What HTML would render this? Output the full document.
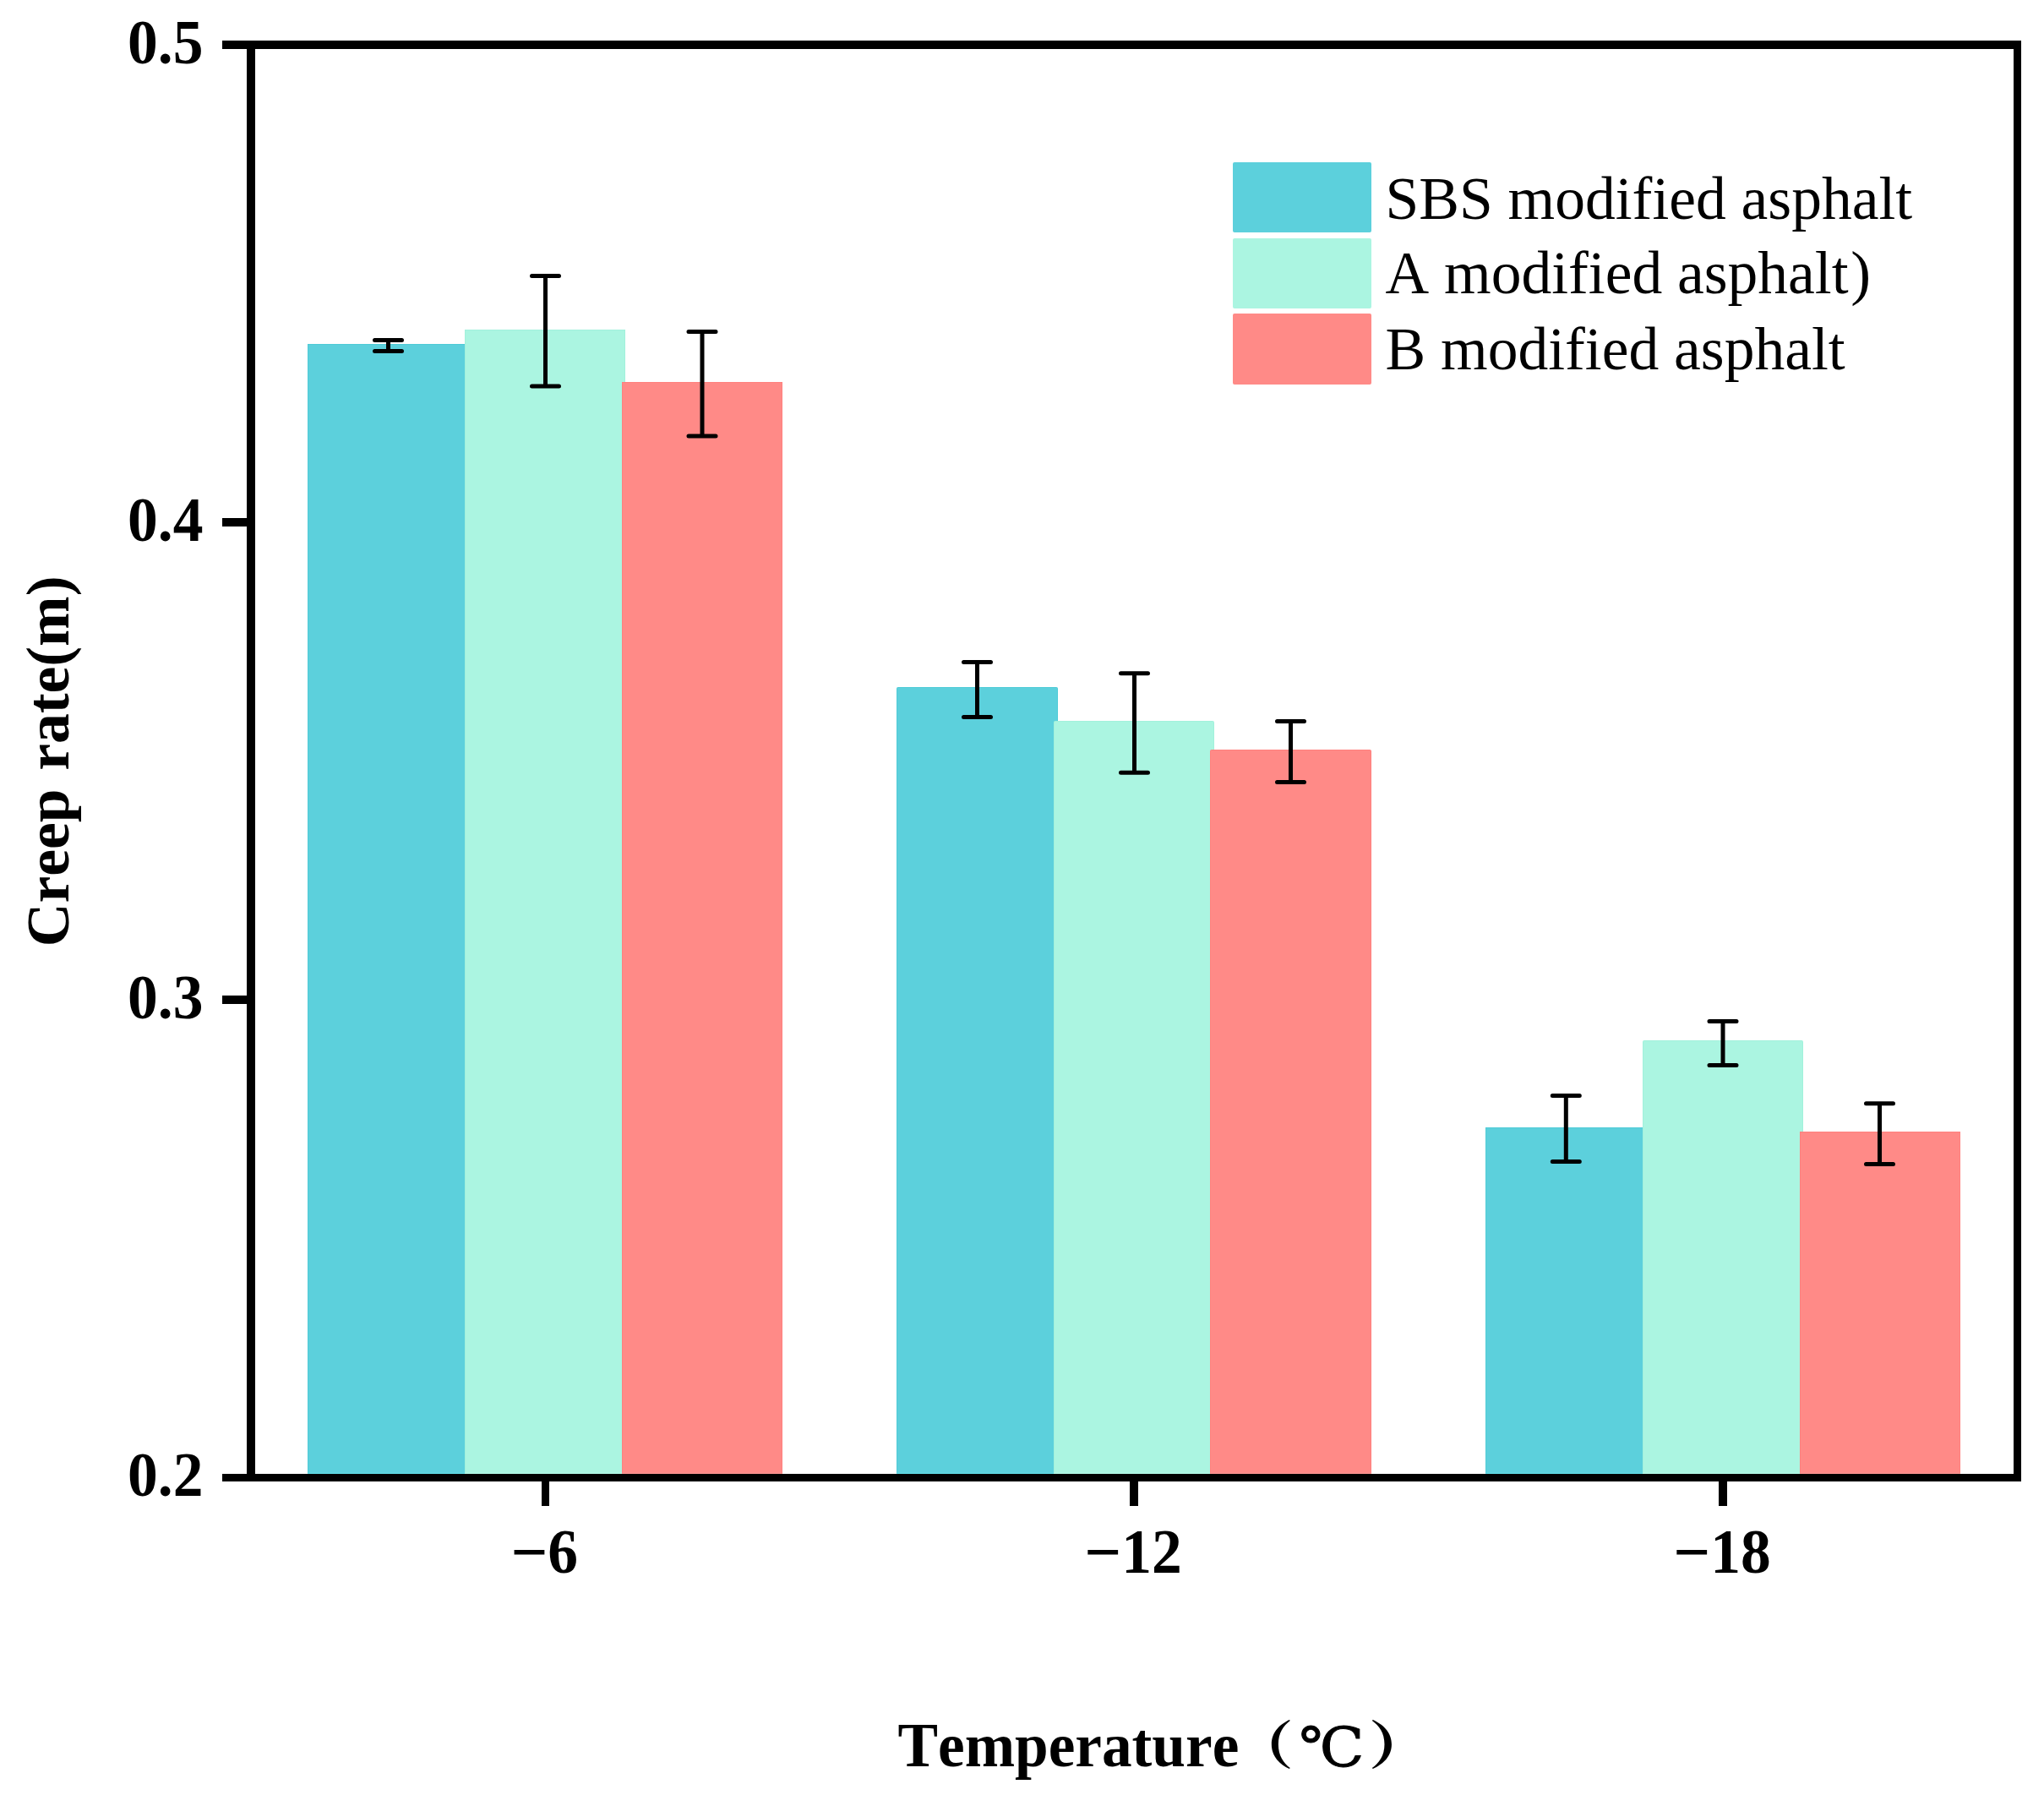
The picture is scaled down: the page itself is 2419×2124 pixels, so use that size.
<!DOCTYPE html>
<html>
<head>
<meta charset="utf-8">
<title>Creep rate vs Temperature</title>
<style>
html,body{margin:0;padding:0;background:#fff;}
body{width:2419px;height:2124px;overflow:hidden;}
svg{display:block;}
text{font-family:"Liberation Serif","Noto Serif CJK SC",serif;fill:#000;font-kerning:none;}
.b{font-weight:bold;}
.tick{font-size:71.5px;font-weight:bold;}
.leg{font-size:71.5px;}
.mn{font-size:77px;}
.ax{font-size:71.5px;font-weight:bold;}
.cjk{font-family:"Liberation Serif","Noto Serif CJK SC",serif;font-weight:900;font-size:72px;}
.deg{font-family:"DejaVu Serif","Noto Serif CJK SC",serif;font-weight:normal;font-size:66px;stroke:#000;stroke-width:1px;}
</style>
</head>
<body>
<svg width="2419" height="2124" viewBox="0 0 2419 2124">
<rect x="0" y="0" width="2419" height="2124" fill="#fff"/>

<!-- bars group 1 -->
<g id="bars">
<rect x="364.5" y="407.5" width="189" height="1339" fill="#5cd0dc" stroke="#4fcbd7" stroke-width="1"/>
<rect x="364" y="1743" width="190" height="1" fill="#62dfea"/>
<rect x="550.5" y="390.5" width="189" height="1356" fill="#abf5e1" stroke="#a2f1dc" stroke-width="1"/>
<rect x="550" y="1743" width="190" height="1" fill="#b6fce9"/>
<rect x="736.5" y="452.5" width="189" height="1294" fill="#ff8a87" stroke="#ff817e" stroke-width="1"/>
<rect x="736" y="1743" width="190" height="1" fill="#ff9895"/>
<rect x="1061.5" y="813.5" width="190" height="933" rx="1" fill="#5cd0dc" stroke="#4fcbd7" stroke-width="1"/>
<rect x="1061" y="1743" width="191" height="1" fill="#62dfea"/>
<rect x="1247.5" y="853.5" width="189" height="893" rx="1" fill="#abf5e1" stroke="#a2f1dc" stroke-width="1"/>
<rect x="1247" y="1743" width="190" height="1" fill="#b6fce9"/>
<rect x="1432.5" y="887.5" width="190" height="859" rx="1" fill="#ff8a87" stroke="#ff817e" stroke-width="1"/>
<rect x="1432" y="1743" width="191" height="1" fill="#ff9895"/>
<rect x="1758.5" y="1334.5" width="189" height="412" fill="#5cd0dc" stroke="#4fcbd7" stroke-width="1"/>
<rect x="1758" y="1743" width="190" height="1" fill="#62dfea"/>
<rect x="1944.5" y="1231.5" width="189" height="515" rx="1" fill="#abf5e1" stroke="#a2f1dc" stroke-width="1"/>
<rect x="1944" y="1743" width="190" height="1" fill="#b6fce9"/>
<rect x="2130.5" y="1339.5" width="189" height="407" fill="#ff8a87" stroke="#ff817e" stroke-width="1"/>
<rect x="2130" y="1743" width="190" height="1" fill="#ff9895"/>
</g>

<!-- error bars -->
<g id="err" stroke="#000" stroke-width="5" stroke-linecap="round" fill="none">
<path d="M459.5 402.5V415.5M443.5 402.5H475.5M443.5 415.5H475.5"/>
<path d="M645.5 326.5V457M629.5 326.5H661.5M629.5 457H661.5"/>
<path d="M831 392.5V516M815 392.5H847M815 516H847"/>
<path d="M1156.5 783.5V848.5M1140.5 783.5H1172.5M1140.5 848.5H1172.5"/>
<path d="M1342.5 796.7V914.3M1326.5 796.7H1358.5M1326.5 914.3H1358.5"/>
<path d="M1527.5 853.6V925.5M1511.5 853.6H1543.5M1511.5 925.5H1543.5"/>
<path d="M1853.3 1296.6V1374.5M1837.3 1296.6H1869.3M1837.3 1374.5H1869.3"/>
<path d="M2039 1208.6V1260.4M2023 1208.6H2055M2023 1260.4H2055"/>
<path d="M2224.5 1305.7V1377.6M2208.5 1305.7H2240.5M2208.5 1377.6H2240.5"/>
</g>

<!-- axes frame -->
<g id="frame" fill="#000">
<rect x="263" y="48" width="2129" height="10"/>
<rect x="263" y="1744" width="2129" height="9"/>
<rect x="292" y="48" width="10" height="1705"/>
<rect x="2383" y="48" width="9" height="1705"/>
<!-- y ticks -->
<rect x="263" y="613" width="30" height="10"/>
<rect x="263" y="1178" width="30" height="10"/>
<!-- x ticks -->
<rect x="641" y="1752" width="9" height="30"/>
<rect x="1337" y="1752" width="10" height="30"/>
<rect x="2034" y="1752" width="10" height="30"/>
</g>

<!-- y tick labels -->
<g class="tick" text-anchor="end">
<text transform="translate(240.5,75) scale(1,1.03)">0.5</text>
<text transform="translate(240.5,640) scale(1,1.03)">0.4</text>
<text transform="translate(240.5,1205) scale(1,1.03)">0.3</text>
<text transform="translate(240.5,1770) scale(1,1.03)">0.2</text>
</g>
<!-- x tick labels -->
<g class="tick" text-anchor="middle">
<text transform="translate(644.3,1861) scale(1,1.03)"><tspan class="mn" dy="1.6">−</tspan><tspan dy="-1.6">6</tspan></text>
<text transform="translate(1341,1861) scale(1,1.03)"><tspan class="mn" dy="1.6">−</tspan><tspan dy="-1.6">12</tspan></text>
<text transform="translate(2038,1861) scale(1,1.03)"><tspan class="mn" dy="1.6">−</tspan><tspan dy="-1.6">18</tspan></text>
</g>

<!-- legend -->
<g id="legend">
<rect x="1459" y="192" width="164" height="83" rx="2" fill="#5cd0dc"/>
<rect x="1459" y="282" width="164" height="83" rx="2" fill="#abf5e1"/>
<rect x="1459" y="371" width="164" height="84" rx="2" fill="#ff8a87"/>
<g class="leg">
<text x="1639.5" y="258.7">SBS modified asphalt</text>
<text x="1639.5" y="347">A modified asphalt<tspan dx="2.6">)</tspan></text>
<text x="1639.5" y="436.7">B modified asphalt</text>
</g>
</g>

<!-- axis titles -->
<text class="ax" transform="translate(1062.5,2090.4) scale(0.997,1.03)">Temperature</text>
<text class="cjk" transform="translate(1459,2086.9) scale(1,0.85)">（</text>
<text class="deg" transform="translate(1537.6,2089.6) scale(1.04,0.98)">℃</text>
<text class="cjk" transform="translate(1619.4,2086.9) scale(1.05,0.85)">）</text>
<text class="ax" style="word-spacing:4px" transform="translate(81,1120.2) rotate(-90)">Creep rate(m)</text>
</svg>
</body>
</html>
